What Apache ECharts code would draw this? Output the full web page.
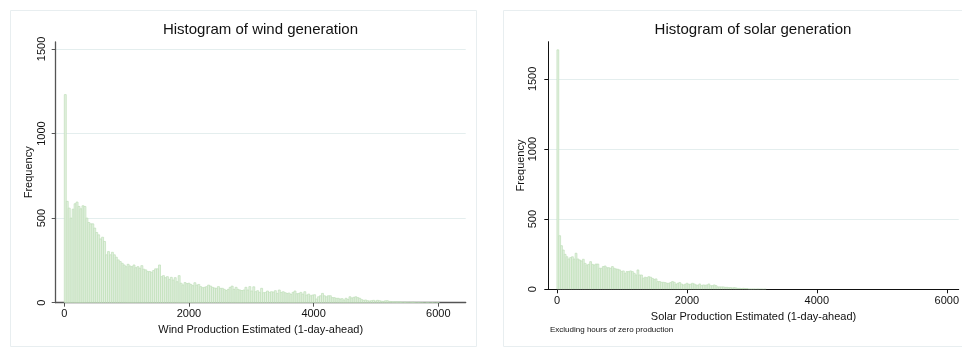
<!DOCTYPE html>
<html>
<head>
<meta charset="utf-8">
<script src="https://cdn.jsdelivr.net/npm/echarts@6/dist/echarts.min.js"></script>
<style>
  html, body { margin: 0; padding: 0; background: #fff; }
  #chart { width: 962px; height: 347px; }
</style>
</head>
<body>
<div id="chart"></div>
<script>
// bin widths (MW)
const windBin = 31.5;
const solarBin = 28;

// frequency per bin, first bin starts at 0
const windCounts = [
  1230, 599, 559, 500, 553, 585, 595, 569, 555, 573,
  569, 500, 474, 466, 466, 441, 415, 401, 377, 387,
  362, 283, 302, 283, 298, 283, 269, 253, 243, 233,
  223, 213, 227, 217, 213, 223, 207, 213, 204, 219,
  198, 194, 184, 184, 180, 190, 200, 200, 223, 154,
  160, 148, 154, 138, 150, 134, 148, 124, 160, 115,
  105, 119, 113, 115, 108, 101, 118, 104, 108, 95,
  89, 91, 95, 104, 98, 91, 87, 85, 95, 85,
  85, 79, 72, 79, 91, 98, 79, 91, 79, 75,
  72, 75, 91, 75, 95, 69, 94, 65, 71, 61,
  85, 59, 61, 69, 61, 65, 63, 71, 55, 75,
  61, 65, 59, 55, 57, 49, 61, 69, 53, 55,
  61, 51, 65, 45, 51, 41, 45, 47, 22, 35,
  41, 55, 41, 35, 41, 41, 30, 30, 26, 26,
  22, 24, 16, 26, 20, 35, 28, 32, 35, 30,
  26, 18, 14, 16, 12, 10, 12, 14, 10, 14,
  12, 9, 8, 11, 12, 8, 7, 5, 6, 4,
  6, 4, 3, 4, 3, 3, 2, 4, 2, 1,
  2, 1, 1, 0, 1, 1, 0, 1, 0, 0, 1
];

const solarCounts = [
  1707, 382, 311, 280, 249, 232, 216, 226, 232, 216,
  257, 216, 209, 202, 214, 185, 173, 178, 197, 178,
  173, 180, 180, 150, 150, 162, 166, 154, 154, 150,
  162, 150, 145, 143, 138, 126, 131, 114, 126, 126,
  131, 126, 114, 102, 138, 102, 102, 79, 86, 83,
  90, 86, 78, 71, 74, 55, 55, 50, 50, 48,
  43, 43, 48, 55, 50, 36, 43, 48, 38, 31,
  36, 43, 36, 36, 43, 38, 31, 29, 38, 26,
  31, 29, 31, 38, 26, 26, 31, 26, 17, 17,
  17, 17, 14, 14, 12, 12, 10, 12, 10, 7,
  7, 5, 7, 5, 5, 2, 2, 2, 2, 1,
  2, 1, 1, 0, 1
];

const yTicks = [0, 500, 1000, 1500];
const xTicks = [0, 2000, 4000, 6000];

const FONT = 'Liberation Sans';

// [start, end, count] per bin
function toBins(counts, w) {
  return counts.map((c, i) => [i * w, (i + 1) * w, c]);
}

function renderBin(params, api) {
  const top = api.coord([api.value(0), api.value(2)]);
  const base = api.coord([api.value(1), 0]);
  return {
    type: 'rect',
    shape: { x: top[0], y: top[1], width: base[0] - top[0], height: base[1] - top[1] },
    style: { fill: '#e4f0e1', stroke: '#bfe0b8', lineWidth: 0.7 }
  };
}

const plain = v => String(v);

function xAxisOpt(idx, name, min, max, axisColor, axisWidth) {
  return {
    type: 'value', gridIndex: idx, min: min, max: max,
    name: name, nameLocation: 'middle', nameGap: 19,
    nameTextStyle: { fontFamily: FONT, fontSize: 11, color: '#111' },
    axisLine: { onZero: false, lineStyle: { color: axisColor, width: axisWidth } },
    axisTick: { customValues: xTicks, length: 4, lineStyle: { color: axisColor } },
    axisLabel: { customValues: xTicks, formatter: plain, margin: 6, fontFamily: FONT, fontSize: 11, color: '#111' },
    splitLine: { show: false }
  };
}

function yAxisOpt(idx, max, axisColor, axisWidth, labelMargin) {
  return {
    type: 'value', gridIndex: idx, min: 0, max: max, interval: 500,
    name: 'Frequency', nameLocation: 'middle', nameGap: 21, nameRotate: 90,
    nameTextStyle: { fontFamily: FONT, fontSize: 11, color: '#111' },
    axisLine: { show: true, onZero: false, lineStyle: { color: axisColor, width: axisWidth } },
    axisTick: { show: true, customValues: yTicks, length: 4, lineStyle: { color: axisColor } },
    axisLabel: { customValues: yTicks, formatter: plain, rotate: 90, margin: labelMargin, fontFamily: FONT, fontSize: 11, color: '#111' },
    splitLine: { show: true, showMinLine: false, showMaxLine: true, lineStyle: { color: '#e4eeee', width: 1 } }
  };
}

const chart = echarts.init(document.getElementById('chart'), null, { renderer: 'canvas' });

chart.setOption({
  backgroundColor: '#fff',
  animation: false,
  graphic: [
    { type: 'rect', z: -10, shape: { x: 10.5, y: 10.5, width: 466, height: 336 },
      style: { fill: '#fff', stroke: '#e8eef0', lineWidth: 1 } },
    { type: 'rect', z: -10, shape: { x: 503.5, y: 10.5, width: 470, height: 336 },
      style: { fill: '#fff', stroke: '#e8eef0', lineWidth: 1 } },
    { type: 'text', x: 260.5, y: 30,
      style: { text: 'Histogram of wind generation', font: '15px "Liberation Sans"', fill: '#111', align: 'center', verticalAlign: 'middle' } },
    { type: 'text', x: 753, y: 30,
      style: { text: 'Histogram of solar generation', font: '15px "Liberation Sans"', fill: '#111', align: 'center', verticalAlign: 'middle' } },
    { type: 'text', x: 550, y: 330,
      style: { text: 'Excluding hours of zero production', font: '8px "Liberation Sans"', fill: '#111', align: 'left', verticalAlign: 'middle' } }
  ],
  grid: [
    { left: 55.7, top: 42, width: 410, height: 260.7 },
    { left: 548.3, top: 41.7, width: 413.7, height: 247.6 }
  ],
  xAxis: [
    xAxisOpt(0, 'Wind Production Estimated (1-day-ahead)', -138, 6440, '#555', 1.3),
    xAxisOpt(1, 'Solar Production Estimated (1-day-ahead)', -133, 6184, '#111', 1)
  ],
  yAxis: [
    yAxisOpt(0, 1541, '#555', 1.3, 8),
    yAxisOpt(1, 1765, '#111', 1, 9.5)
  ],
  series: [
    { type: 'custom', name: 'wind', xAxisIndex: 0, yAxisIndex: 0, clip: true,
      renderItem: renderBin, encode: { x: [0, 1], y: 2 }, data: toBins(windCounts, windBin) },
    { type: 'custom', name: 'solar', xAxisIndex: 1, yAxisIndex: 1, clip: true,
      renderItem: renderBin, encode: { x: [0, 1], y: 2 }, data: toBins(solarCounts, solarBin) }
  ]
});
</script>
</body>
</html>
